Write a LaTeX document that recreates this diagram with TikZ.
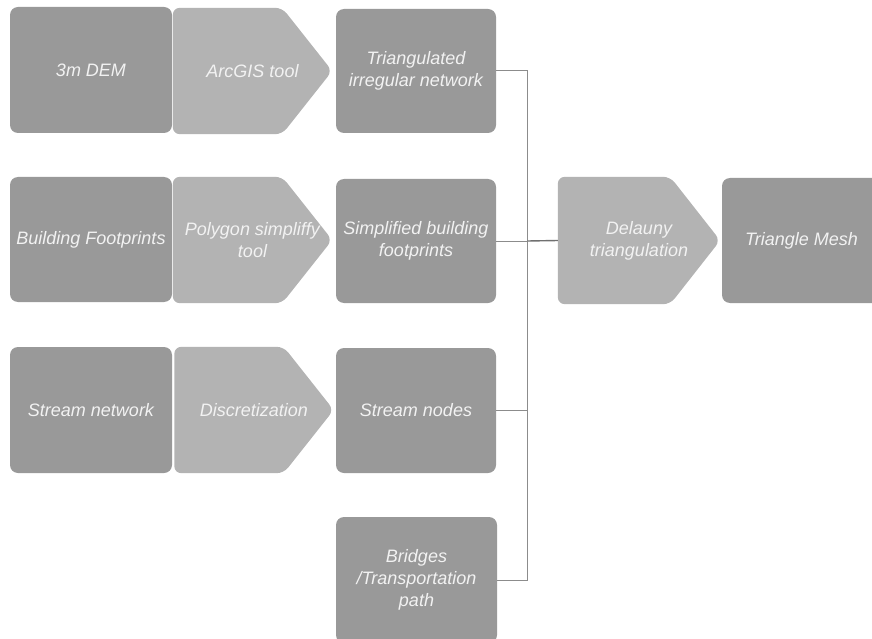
\documentclass[tikz,border=0pt]{standalone}
\usepackage{fontspec}
\setmainfont{Liberation Sans}
\usetikzlibrary{calc,backgrounds}
\definecolor{boxdark}{HTML}{999999}
\definecolor{boxlight}{HTML}{B3B3B3}
\definecolor{txt}{HTML}{F2F2F2}
\definecolor{linec}{HTML}{8C8C8C}
\definecolor{linedark}{HTML}{707070}
\begin{document}
\begin{tikzpicture}[x=1pt,y=-1pt,
  lbl/.style={font=\fontsize{18}{22}\selectfont\itshape, text=txt, align=center},
  darkbox/.style={lbl, fill=boxdark, rounded corners=8pt, minimum width=162pt, minimum height=126pt, inner sep=0pt},
  chev/.style={lbl, minimum width=159pt, minimum height=126pt, inner sep=0pt},
  chevfill/.style={fill=boxlight, rounded corners=7pt},
  conn/.style={draw=linec, line width=1pt},
  conndark/.style={draw=linedark, line width=1.4pt},
]
\useasboundingbox (0,0) rectangle (872,639);
\clip (0,0) rectangle (872,639);

% row 1
\node[darkbox] (dem) at (91,70) {3m DEM};
\node[chev] (arc) at (252.5,71) {ArcGIS tool};
\node[darkbox, minimum width=160pt, minimum height=124pt] (tin) at (416,71) {Triangulated\\irregular network};

% row 2
\node[darkbox, minimum height=125pt] (bf) at (91,239.5) {Building Footprints};
\node[chev] (poly) at (252.5,240) {Polygon simpliffy\\tool};
\node[darkbox, minimum width=160pt, minimum height=124pt] (sbf) at (416,241) {Simplified building\\footprints};

% row 3
\node[darkbox] (stream) at (91,410) {Stream network};
\node[chev] (disc) at (254,410) {Discretization};
\node[darkbox, minimum width=160pt, minimum height=125pt] (snodes) at (416,410.5) {Stream nodes};

% row 4
\node[darkbox, minimum width=161pt] (br) at (416.5,580) {Bridges\\/Transportation\\path};

% right side
\node[chev, minimum width=162pt, minimum height=127pt] (del) at (639,240.5) {Delauny\\triangulation};
\node[darkbox, minimum width=159pt, minimum height=125pt] (mesh) at (801.5,240.5) {Triangle Mesh};

\begin{scope}[on background layer]
  \foreach \c in {arc,poly,disc,del}{
    \fill[chevfill] (\c.north west) -- ($(\c.north east)+(-50,0)$) -- (\c.east)
      -- ($(\c.south east)+(-50,0)$) -- (\c.south west) -- cycle;
  }
\end{scope}

% connectors
\coordinate (j) at (527.5,241);
\draw[conn] (tin.east) -| (j);
\draw[conn] (sbf.east) -- (j);
\draw[conn] (snodes.east) -| (j);
\draw[conn] (br.east) -| (j);
\draw[conndark] (j) -- (del.west);
\end{tikzpicture}
\end{document}
